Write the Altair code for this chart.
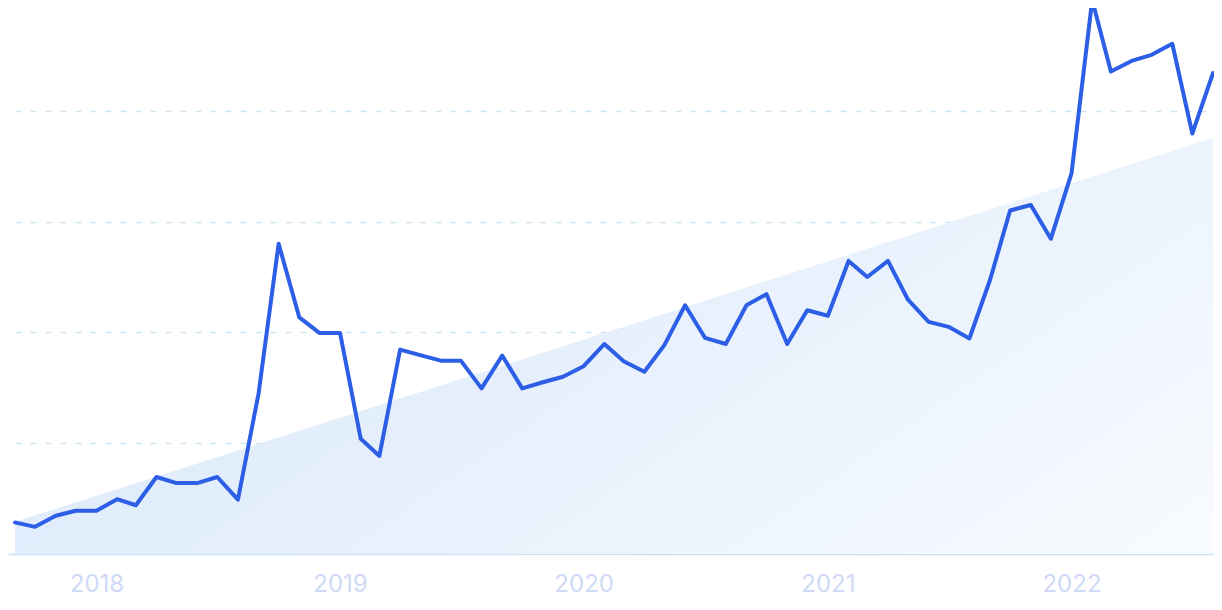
import altair as alt
import pandas as pd

# Monthly interest values, Sep 2017 .. Aug 2022
months = pd.date_range("2017-09-01", periods=60, freq="MS").strftime("%Y-%m-%d").tolist()
interest = [5.7, 4.9, 6.9, 7.8, 7.8, 9.9, 8.8, 13.9, 12.8, 12.8, 13.9, 9.8,
            29.0, 56.0, 42.7, 39.9, 39.9, 20.8, 17.7, 36.9, 35.9, 34.9, 34.9, 29.9,
            35.8, 29.9, 31.0, 32.0, 33.9, 37.9, 34.8, 32.9, 37.7, 44.9, 39.0, 37.9,
            44.9, 46.9, 37.9, 44.0, 43.0, 52.9, 50.0, 52.9, 45.9, 41.9, 41.0, 38.9,
            49.5, 62.0, 63.0, 56.9, 68.7, 100.0, 87.1, 89.0, 90.1, 92.1, 75.9, 86.8]

# Trend (shaded wedge) end points
trend_dates = ["2017-09-01", "2022-08-01"]
trend_values = [5.8, 75.1]

year_ticks = [2018, 2019, 2020, 2021, 2022]
grid_values = [20, 40, 60, 80]

df = pd.DataFrame({"date": months, "value": interest})
trend = pd.DataFrame({"date": trend_dates, "value": trend_values})

x_scale = alt.Scale(
    type="utc",
    domain=[alt.DateTime(year=2017, month=8, date=21, hours=12, utc=True),
            alt.DateTime(year=2022, month=8, date=2, hours=12, utc=True)],
)
y_scale = alt.Scale(domain=[0, 98.556], nice=False, zero=True)

x_axis = alt.Axis(
    values=[alt.DateTime(year=y, month=1, date=1, utc=True) for y in year_ticks],
    format="%Y",
    title=None,
    grid=False,
    ticks=False,
    tickSize=0,
    domain=True,
    domainColor="#c6e2f7",
    domainWidth=1.5,
    labelFont="Inter",
    labelFontSize=24,
    labelColor="#cfdaf6",
    labelPadding=37,
    labelBaseline="alphabetic",
    labelFlush=False,
)
y_axis = alt.Axis(
    values=grid_values,
    labels=False,
    ticks=False,
    domain=False,
    grid=True,
    gridDash=[6, 9],
    gridDashOffset=8,
    gridColor="#cce6f4",
    gridWidth=1.6,
    title=None,
)

area = alt.Chart(trend).mark_area(
    color=alt.Gradient(
        gradient="linear",
        stops=[alt.GradientStop(color="#dbe9fa", offset=0),
               alt.GradientStop(color="#f8fbff", offset=1)],
        x1=0, y1=0.5, x2=1, y2=1,
    )
).encode(
    x=alt.X("date:T", scale=x_scale, axis=x_axis),
    y=alt.Y("value:Q", scale=y_scale, axis=y_axis),
)

line = alt.Chart(df).mark_line(
    color="#2d5fe6", strokeWidth=4, strokeJoin="round", strokeCap="round"
).encode(
    x=alt.X("date:T", scale=x_scale),
    y=alt.Y("value:Q", scale=y_scale),
)

chart = alt.layer(area, line).properties(
    width=1206,
    height=546,
    autosize=alt.AutoSizeParams(type="none"),
    padding={"left": 0, "top": 0, "right": 0, "bottom": 44},
    background="white",
).configure_view(stroke=None)

chart.save("out.html", embed_options={"renderer": "svg", "actions": False})
